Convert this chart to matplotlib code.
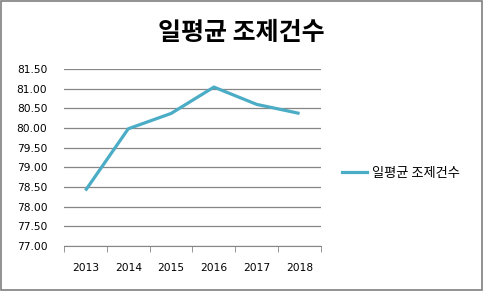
import matplotlib
matplotlib.use("Agg")
import matplotlib.pyplot as plt
from matplotlib.patches import Rectangle
from matplotlib.lines import Line2D

years = ["2013", "2014", "2015", "2016", "2017", "2018"]
values = [78.41, 79.98, 80.37, 81.04, 80.60, 80.37]
series_name = "일평균 조제건수"
title = "일평균 조제건수"
yticks = [77.0, 77.5, 78.0, 78.5, 79.0, 79.5, 80.0, 80.5, 81.0, 81.5]

plt.rcParams['font.family'] = ['DejaVu Sans', 'Noto Sans CJK KR']

fig = plt.figure(figsize=(4.83, 2.91), dpi=100)
fig.patches.append(Rectangle((0.002, 0.003), 0.995, 0.994, transform=fig.transFigure,
                             fill=False, edgecolor="#7f7f7f", linewidth=1.2))

ax = fig.add_axes([64/483, 1-246/291, (321-64)/483, (246-69)/291])
x = list(range(len(years)))
ax.plot(x, values, color="#4BACC6", linewidth=2.3, solid_capstyle="butt")
ax.set_xlim(-0.5, len(years)-0.5)
ax.set_ylim(77.0, 81.5)
ax.set_yticks(yticks)
ax.set_yticklabels([f"{v:.2f}" for v in yticks])
ax.yaxis.grid(True, color="#868686", linewidth=0.9)
ax.set_axisbelow(True)
ax.tick_params(axis="y", length=0, pad=12, labelsize=7.7)
ax.set_xticks(x)
ax.set_xticklabels(years)
ax.tick_params(axis="x", length=0, pad=12.5, labelsize=7.7)
ax.set_xticks([i - 0.5 for i in range(len(years)+1)], minor=True)
ax.tick_params(axis="x", which="minor", length=4, direction="out", color="#868686")
for s in ["top", "right", "left"]:
    ax.spines[s].set_visible(False)
ax.spines["bottom"].set_color("#868686")

fig.text(241/483, 1-33/291, title, ha="center", va="center", fontsize=18,
         fontweight="bold", family=["Noto Sans CJK KR"])

fig.legend(handles=[Line2D([0], [0], color="#4BACC6", linewidth=2.3)],
           labels=[series_name], loc="center left",
           bbox_to_anchor=(330/483, 1-173/291), frameon=False,
           prop={"family": ["Noto Sans CJK KR"], "size": 9.5},
           handlelength=1.9, handletextpad=0.35)

fig.savefig("out.png", dpi=100)
